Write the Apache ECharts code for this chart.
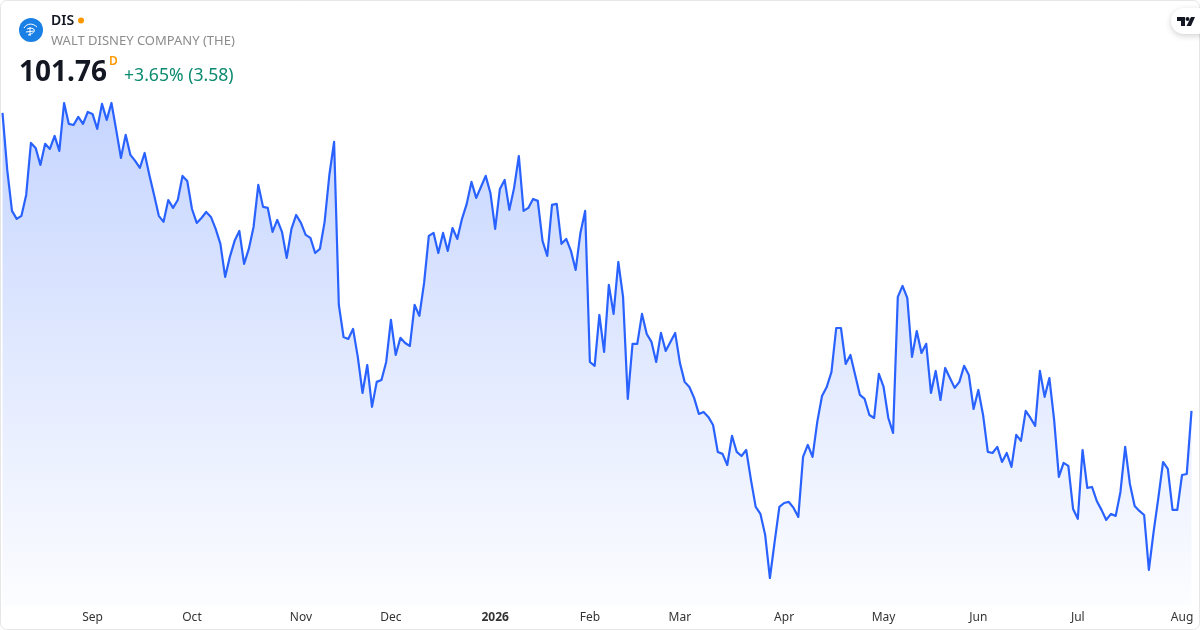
<!DOCTYPE html>
<html><head><meta charset="utf-8">
<style>html,body{margin:0;padding:0;background:#fff}#c{width:1200px;height:630px}</style>
<script src="https://cdn.jsdelivr.net/npm/echarts@6/dist/echarts.min.js"></script>
</head><body><div id="c"></div>
<script>
const closes = [
118.69,115.45,113.12,112.67,112.84,114.03,116.98,116.70,115.73,116.93,
116.64,117.38,116.53,119.25,118.06,118.00,118.46,118.06,118.74,118.63,
117.78,119.20,118.29,119.25,117.72,116.13,117.44,116.30,115.96,115.56,
116.41,115.16,114.03,112.84,112.50,113.74,113.29,113.74,115.11,114.82,
113.23,112.44,112.72,113.06,112.78,112.10,111.25,109.37,110.51,111.42,
111.98,110.11,110.96,112.21,114.60,113.35,113.29,111.93,112.61,111.93,
110.45,112.10,112.89,112.44,111.76,111.59,110.73,110.96,112.50,115.16,
117.04,107.78,105.96,105.85,106.42,104.83,102.78,104.37,101.99,103.41,
103.52,104.54,106.93,104.94,105.91,105.62,105.45,107.78,107.16,109.03,
111.70,111.87,110.73,111.87,110.85,112.15,111.53,112.67,113.52,114.77,
113.86,114.48,115.11,114.14,112.10,114.37,114.88,113.18,114.43,116.24,
113.12,113.29,113.80,113.69,111.42,110.56,113.46,113.52,111.25,111.53,
110.85,109.77,111.87,113.12,104.54,104.32,107.21,105.11,108.92,107.27,
110.22,108.24,102.44,105.57,105.57,107.27,106.13,105.68,104.54,106.19,
105.17,105.68,106.19,104.49,103.41,103.12,102.50,101.59,101.70,101.42,
100.96,99.43,99.32,98.69,100.34,99.43,99.20,99.54,97.84,96.31,
95.91,94.72,92.27,94.32,96.31,96.53,96.59,96.25,95.74,99.15,
99.83,99.15,101.14,102.61,103.12,103.98,106.47,106.47,104.43,104.94,
103.80,102.67,102.44,101.53,101.36,103.86,103.12,101.36,100.51,108.24,
108.86,108.18,104.83,106.30,105.05,105.57,102.78,104.03,102.38,104.20,
103.63,103.07,103.41,104.32,103.80,101.87,102.95,101.53,99.43,99.37,
99.72,98.86,99.37,98.58,100.40,100.06,101.76,101.36,100.91,104.03,
102.56,103.63,101.25,98.01,98.81,98.64,96.19,95.63,99.54,97.39,
97.44,96.65,96.14,95.57,95.91,95.80,97.16,99.72,97.61,96.36,
96.08,95.85,92.73,94.89,96.82,98.86,98.47,96.14,96.14,98.12,
98.18,101.76];
const tickLabels = ['Sep','Oct','Nov','Dec','2026','Feb','Mar','Apr','May','Jun','Jul','Aug'];
const tickIndex  = [19,40,63,82,104,124,143,165,186,206,227,249];
const categories = closes.map((_, i) => String(i));
const ticker = 'DIS', company = 'WALT DISNEY COMPANY (THE)', lastPrice = '101.76', changeText = '+3.65% (3.58)';

const chart = echarts.init(document.getElementById('c'), null, {renderer:'canvas'});
const font = '"Noto Sans","Open Sans",sans-serif';
chart.setOption({
  animation:false,
  backgroundColor:'#fff',
  grid:{left:2.5,right:8.5,top:0,height:606,containLabel:false},
  xAxis:{type:'category',data:categories,boundaryGap:false,
    axisLine:{show:false},axisTick:{show:false},splitLine:{show:false},
    axisLabel:{margin:6,hideOverlap:false,color:'#333',fontFamily:font,fontSize:12,
      interval:(i)=>tickIndex.includes(i),
      formatter:(v,i)=>{const l=tickLabels[tickIndex.indexOf(+v)];return l==='2026'?'{b|2026}':l;},
      rich:{b:{fontWeight:700,fontSize:12,color:'#333',fontFamily:font}}}},
  yAxis:{type:'value',min:90.68,max:125.10,show:false,splitLine:{show:false}},
  series:[{type:'line',data:closes,symbol:'none',smooth:false,
    lineStyle:{color:'#2962ff',width:2.2,join:'round'},
    areaStyle:{origin:'start',color:{type:'linear',x:0,y:0,x2:0,y2:1,colorStops:[
      {offset:0,color:'rgba(41,98,255,0.38)'},{offset:1,color:'rgba(41,98,255,0.02)'}]}}}],
  graphic:[
    {type:'rect',z:20,silent:true,shape:{x:0.5,y:0.5,width:1199,height:629,r:6},style:{fill:'none',stroke:'#e6e6e6',lineWidth:1}},
    {type:'circle',z:20,shape:{cx:31,cy:30,r:12},style:{fill:'#1a80e5'}},
    {type:'bezierCurve',z:21,shape:{x1:24,y1:28,cpx1:27,cpy1:23,cpx2:33,cpy2:23,x2:37,y2:27},style:{fill:'none',stroke:'#fff',lineWidth:1}},
    {type:'line',z:21,shape:{x1:30,y1:27,x2:30,y2:36},style:{stroke:'#fff',lineWidth:1}},
    {type:'bezierCurve',z:21,shape:{x1:27,y1:29,cpx1:34,cpy1:26,cpx2:39,cpy2:32,x2:28,y2:35},style:{fill:'none',stroke:'#fff',lineWidth:1}},
    {type:'line',z:21,shape:{x1:26,y1:32,x2:34,y2:31},style:{stroke:'#fff',lineWidth:1}},
    {type:'text',z:20,x:51,y:21,style:{text:ticker,font:'600 14px '+font,fill:'#131722',verticalAlign:'middle'}},
    {type:'circle',z:20,shape:{cx:81,cy:20.5,r:3},style:{fill:'#ff9800'}},
    {type:'text',z:20,x:51,y:41.5,style:{text:company,font:'13px '+font,fill:'#8c8c8c',verticalAlign:'middle'}},
    {type:'text',z:20,x:19,y:73,style:{text:lastPrice,font:'700 28px '+font,fill:'#131722',verticalAlign:'middle'}},
    {type:'text',z:20,x:109,y:62,style:{text:'D',font:'600 12px '+font,fill:'#ff9800',verticalAlign:'middle'}},
    {type:'text',z:20,x:124,y:76,style:{text:changeText,font:'17.6px '+font,fill:'#0b8a6f',verticalAlign:'middle'}},
    {type:'rect',z:20,shape:{x:1171,y:8,width:40,height:26,r:13},style:{fill:'#fff',shadowBlur:6,shadowColor:'rgba(0,0,0,0.18)',shadowOffsetY:2}},
    {type:'polygon',z:21,shape:{points:[[1177,17],[1185,17],[1185,26],[1181,26],[1181,21],[1177,21]]},style:{fill:'#131722'}},
    {type:'circle',z:21,shape:{cx:1187.5,cy:19,r:2},style:{fill:'#131722'}},
    {type:'polygon',z:21,shape:{points:[[1191,17],[1195,17],[1191,26],[1186.5,26]]},style:{fill:'#131722'}}
  ]
});
</script></body></html>
